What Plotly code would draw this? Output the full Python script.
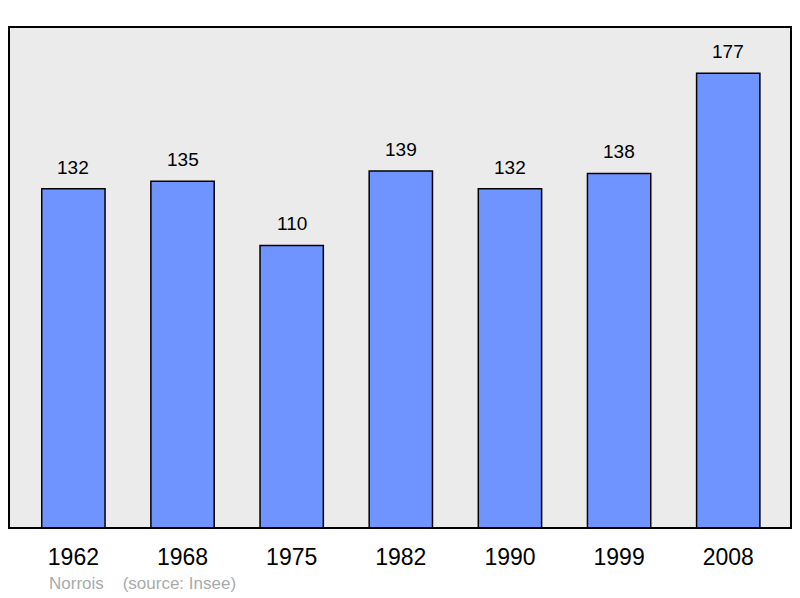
import plotly.graph_objects as go

years = ['1962', '1968', '1975', '1982', '1990', '1999', '2008']
population = [132, 135, 110, 139, 132, 138, 177]
positions = list(range(len(years)))

fig = go.Figure()
fig.add_trace(go.Bar(
    x=positions, y=population, width=0.58,
    marker=dict(color='#7094ff', line=dict(color='black', width=1.5)),
))

# value labels above the bars
for p, v in zip(positions, population):
    fig.add_annotation(x=p, y=v, text=str(v), showarrow=False, yanchor='bottom', yshift=9,
                       font=dict(size=19, color='black', family='Liberation Sans'))

fig.add_shape(type='rect', xref='paper', yref='paper', x0=0, y0=0, x1=1, y1=1,
              line=dict(color='black', width=2), layer='above')

fig.add_annotation(text='Norrois&nbsp;&nbsp;&nbsp;&nbsp;(source: Insee)', xref='paper', yref='paper',
                   x=0.048, y=-0.11, xanchor='left', yanchor='middle', showarrow=False,
                   font=dict(size=17, color='#aaaaaa', family='Liberation Sans'))

fig.update_layout(
    width=800, height=598,
    margin=dict(l=9, r=9, t=27, b=70),
    paper_bgcolor='white', plot_bgcolor='#ebebeb',
    showlegend=False,
    font=dict(family='Liberation Sans', color='black'),
)
fig.update_xaxes(range=[-0.59, 6.575], tickmode='array', tickvals=positions, ticktext=years,
                 showgrid=False, zeroline=False, ticks='outside', ticklen=8, tickcolor='rgba(0,0,0,0)',
                 tickfont=dict(size=23, color='black'))
fig.update_yaxes(range=[0, 195], showgrid=False, zeroline=False, showticklabels=False)

# drop the default page margin so the figure sits at the window's corner
fig.write_html('out.html', config={'displayModeBar': False},
               post_script="document.body.style.margin='0';document.body.style.overflow='hidden';")
